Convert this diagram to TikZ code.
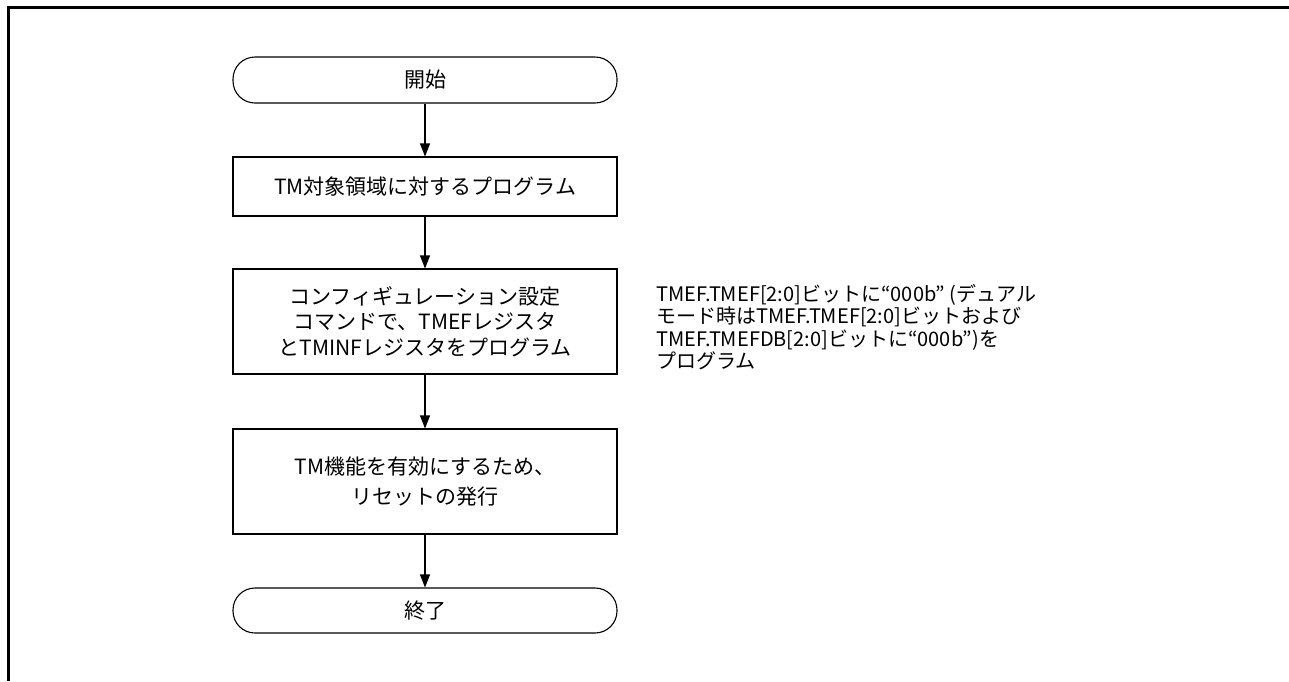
\documentclass[tikz,border=0pt]{standalone}
\usepackage{fontspec}
\setmainfont{Noto Sans CJK JP}
\usetikzlibrary{arrows.meta}

\begin{document}
\begin{tikzpicture}[x=1pt, y=-1pt,
    proc/.style={draw, line width=1.1pt, minimum width=384pt, align=center,
        inner sep=0pt, font=\fontsize{21}{25.5}\selectfont},
    term/.style={proc, rounded corners=22pt, minimum height=46pt},
    flow/.style={line width=1.1pt, -{Triangle[length=13pt, width=10pt]}}]
    \useasboundingbox (0,0) rectangle (1289,681);

    % Marco
    \draw[line width=3pt] (8,681) -- (8,7) -- (1289,7);

    % Nodos del diagrama
    \node[term] (inicio) at (425,80) {開始};
    \node[proc, minimum height=59pt] (prog) at (425,186.5) {TM対象領域に対するプログラム};
    \node[proc, minimum height=105pt] (config) at (425,321.5)
        {コンフィギュレーション設定\\コマンドで、TMEFレジスタ\\とTMINFレジスタをプログラム};
    \node[proc, minimum height=105pt, font=\fontsize{21}{30}\selectfont] (reset) at (425,481.5)
        {TM機能を有効にするため、\\リセットの発行};
    \node[term, minimum height=45pt] (fin) at (425,610.5) {終了};

    % Nota al lado
    \node[anchor=north west, align=left, inner sep=0pt,
        font=\fontsize{20}{22.5}\selectfont] (nota) at (656,284)
        {TMEF.TMEF[2:0]ビットに“000b” (デュアル\\
         モード時はTMEF.TMEF[2:0]ビットおよび\\
         TMEF.TMEFDB[2:0]ビットに“000b”)を\\
         プログラム};

    % Flechas entre los nodos
    \foreach \a/\b in {inicio/prog, prog/config, config/reset, reset/fin} {
        \draw[flow] (\a) -- (\b);
    }

\end{tikzpicture}
\end{document}
